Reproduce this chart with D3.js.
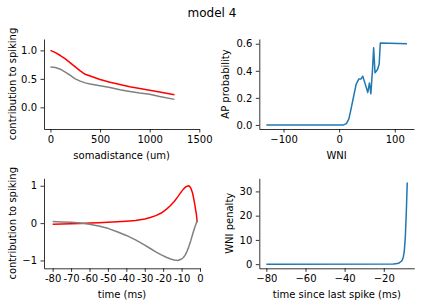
<!DOCTYPE html>
<html>
<head>
<meta charset="utf-8">
<title>model 4</title>
<script src="https://d3js.org/d3.v7.min.js"></script>
<style>
    body { margin: 0; background: #ffffff; }
    svg { font-family: "DejaVu Sans", sans-serif; }
    .axis path, .axis line { stroke: #000; stroke-width: 0.8; }
    .axis text { font-size: 10px; fill: #000; font-family: "DejaVu Sans", sans-serif; }
    .label { font-size: 10px; fill: #000; }
    .curve { fill: none; stroke-width: 1.5; stroke-linejoin: round; }
</style>
</head>
<body>
<svg id="chart"></svg>
<script>

    // top left: contribution vs distance from soma
    var somaDistance = [0, 50, 100, 150, 200, 250, 300, 350, 400, 500, 600, 700, 800, 900, 1000, 1100, 1250];
    var distRed  = [1.0, 0.96, 0.91, 0.85, 0.78, 0.71, 0.64, 0.58, 0.55, 0.49, 0.44, 0.40, 0.36, 0.33, 0.30, 0.27, 0.22];
    var distGray = [0.71, 0.70, 0.67, 0.62, 0.56, 0.50, 0.46, 0.43, 0.41, 0.38, 0.35, 0.31, 0.28, 0.25, 0.23, 0.19, 0.14];

    // top right: AP probability vs WNI
    var wni    = [-131, 8, 13, 17.5, 22, 26, 30.5, 35.5, 39.5, 42.5, 45.5, 48.5, 51.5, 54.5, 57, 60, 62, 64.5, 69, 72, 74, 122];
    var apProb = [0, 0, 0.01, 0.045, 0.13, 0.21, 0.30, 0.34, 0.34, 0.36, 0.32, 0.28, 0.24, 0.31, 0.23, 0.41, 0.57, 0.385, 0.41, 0.45, 0.605, 0.6];

    // bottom left: temporal kernels
    var timeMs   = [-80, -75, -70, -65, -60, -55, -50, -45, -40, -35, -30, -27, -24, -21, -18, -16, -14, -12, -10, -9, -8, -7, -6, -5, -4, -3, -2, -1.5];
    var timeRed  = [-0.03, -0.025, -0.02, -0.01, 0.0, 0.012, 0.022, 0.035, 0.05, 0.07, 0.11, 0.15, 0.2, 0.27, 0.38, 0.47, 0.58, 0.71, 0.85, 0.91, 0.96, 0.99, 1.0, 0.94, 0.8, 0.55, 0.25, 0.02];
    var timeGray = [0.04, 0.03, 0.02, 0.0, -0.03, -0.08, -0.14, -0.23, -0.33, -0.45, -0.59, -0.68, -0.77, -0.85, -0.92, -0.96, -0.99, -1.0, -0.96, -0.92, -0.85, -0.75, -0.62, -0.47, -0.3, -0.14, 0.0, 0.08];
    var timeTicks = [-80, -70, -60, -50, -40, -30, -20, -10, 0];
    var timeTickLabels = ["-80", "-70", "-60", "-50", "-40", "-30", "-20", "-10", "0"];

    // bottom right: WNI penalty after a spike
    var sinceSpike = [-80, -15, -13, -12, -11, -10.5, -10, -9.5, -9, -8.5, -8];
    var wniPenalty = [0, 0.05, 0.25, 0.6, 1.2, 1.8, 3.0, 5.5, 11, 21, 33.7];

    var width = 424, height = 306;

    var svg = d3.select("#chart")
        .attr("width", width)
        .attr("height", height);

    svg.append("text")
        .attr("x", 212)
        .attr("y", 16.5)
        .attr("text-anchor", "middle")
        .style("font-size", "12px")
        .text("model 4");

    function makePanel(box, xDomain, yDomain, xTicks, yTicks, xFmt, yFmt, xLabel, yLabel, yLabelX) {
        var x = d3.scaleLinear().domain(xDomain).range([box.left, box.right]);
        var y = d3.scaleLinear().domain(yDomain).range([box.bottom, box.top]);

        var xAxis = d3.axisBottom(x).tickValues(xTicks).tickFormat(xFmt)
            .tickSize(3.5).tickSizeOuter(0).tickPadding(3.5);
        var yAxis = d3.axisLeft(y).tickValues(yTicks).tickFormat(yFmt)
            .tickSize(3.5).tickSizeOuter(0).tickPadding(3.5);

        svg.append("g").attr("class", "axis")
            .attr("transform", "translate(0," + box.bottom + ")")
            .call(xAxis);
        svg.append("g").attr("class", "axis")
            .attr("transform", "translate(" + box.left + ",0)")
            .call(yAxis);

        svg.append("text").attr("class", "label")
            .attr("x", (box.left + box.right) / 2)
            .attr("y", box.bottom + 29.5)
            .attr("text-anchor", "middle")
            .text(xLabel);

        svg.append("text").attr("class", "label")
            .attr("transform", "translate(" + yLabelX + "," + (box.top + box.bottom) / 2 + ") rotate(-90)")
            .attr("text-anchor", "middle")
            .text(yLabel);

        return {x: x, y: y};
    }

    function drawLine(p, xs, ys, color) {
        var line = d3.line()
            .x(function(d) { return p.x(d); })
            .y(function(d, i) { return p.y(ys[i]); });
        svg.append("path")
            .attr("class", "curve")
            .attr("stroke", color)
            .attr("d", line(xs));
    }

    var f1 = d3.format(".1f");
    var f0 = d3.format("d");

    var p1 = makePanel({left: 44, right: 199.3, top: 39, bottom: 129},
        [-65, 1500], [-0.38, 1.2], [0, 500, 1000, 1500], [0, 0.5, 1.0], f0, f1,
        "somadistance (um)", "contribution to spiking", 16);
    drawLine(p1, somaDistance, distGray, "gray");
    drawLine(p1, somaDistance, distRed, "red");

    var p2 = makePanel({left: 259.3, right: 414, top: 39, bottom: 129},
        [-143.6, 134.6], [-0.03, 0.635], [-100, 0, 100], [0, 0.2, 0.4, 0.6], f0, f1,
        "WNI", "AP probability", 229);
    drawLine(p2, wni, apProb, "#1f77b4");

    var p3 = makePanel({left: 44, right: 200, top: 178.3, bottom: 268.3},
        [-84.7, 0], [-1.21, 1.2], timeTicks, [-1, 0, 1],
        function(d, i) { return timeTickLabels[i]; }, f0,
        "time (ms)", "contribution to spiking", 16);
    drawLine(p3, timeMs, timeRed, "red");
    drawLine(p3, timeMs, timeGray, "gray");

    var p4 = makePanel({left: 259.3, right: 414.3, top: 178.3, bottom: 268.3},
        [-83.6, -4.4], [-1.7, 35.4], [-80, -60, -40, -20], [0, 10, 20, 30], f0, f0,
        "time since last spike (ms)", "WNI penalty", 232.5);
    drawLine(p4, sinceSpike, wniPenalty, "#1f77b4");

</script>
</body>
</html>
